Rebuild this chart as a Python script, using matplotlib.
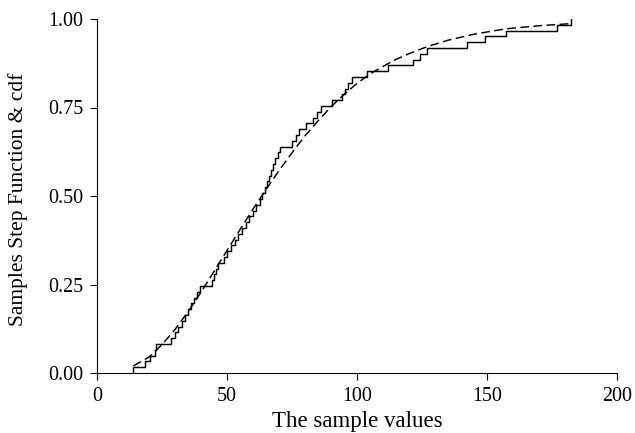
import numpy as np
import matplotlib
matplotlib.use("Agg")
import matplotlib.pyplot as plt

plt.rcParams['font.family'] = ['Liberation Serif', 'DejaVu Serif']

# Sorted sample values (read from the step function)
sample_values = [
    14.0, 18.5, 20.4, 22.3, 22.6, 28.5, 30.0, 31.3, 32.6, 33.8,
    35.0, 36.0, 37.2, 38.4, 39.6, 44.1, 45.0, 45.8, 46.4, 48.7,
    50.0, 51.5, 53.0, 54.4, 55.8, 57.2, 58.6, 60.0, 61.3, 62.7,
    63.6, 64.5, 65.3, 66.2, 67.0, 67.8, 68.6, 69.5, 70.4, 75.1,
    76.4, 77.7, 80.3, 83.2, 84.7, 86.2, 90.3, 94.1, 95.3, 96.6,
    98.0, 103.7, 112.0, 121.4, 124.2, 126.8, 142.2, 149.2, 157.3, 176.8,
    182.3,
]

# Theoretical cdf (dashed)
cdf_x = [14, 20, 25, 30, 35, 40, 45, 50, 55, 60, 65, 70, 75, 80, 85, 90,
         95, 100, 105, 110, 115, 120, 127, 135, 145, 157, 170, 182.3]
cdf_y = [0.020, 0.045, 0.080, 0.123, 0.173, 0.228, 0.287, 0.346, 0.405, 0.463,
         0.518, 0.572, 0.622, 0.670, 0.712, 0.752, 0.787, 0.818, 0.845, 0.866,
         0.886, 0.902, 0.922, 0.940, 0.957, 0.972, 0.981, 0.987]

x_ticks = [0, 50, 100, 150, 200]
y_ticks = [0.00, 0.25, 0.50, 0.75, 1.00]
y_tick_labels = ["0.00", "0.25", "0.50", "0.75", "1.00"]

fig = plt.figure(figsize=(6.35, 4.33), dpi=100)
ax = fig.add_axes([97/635, 1 - 373/433, (617 - 97)/635, (373 - 19)/433])

xs = np.sort(np.asarray(sample_values))
n = len(xs)
step_x = np.r_[xs[0], xs]
step_y = np.arange(0, n + 1) / n
ax.step(step_x, step_y, where='post', color='black', lw=1.05)
ax.plot(cdf_x, cdf_y, color='black', lw=1.05, linestyle=(0, (6, 3)))

ax.set_xlim(0, 200)
ax.set_ylim(0, 1)
ax.set_xticks(x_ticks)
ax.set_yticks(y_ticks)
ax.set_yticklabels(y_tick_labels)
ax.tick_params(axis='both', direction='out', length=5, width=0.8,
               labelsize=14.4, pad=5)
for s in ['top', 'right']:
    ax.spines[s].set_visible(False)
for s in ['left', 'bottom']:
    ax.spines[s].set_linewidth(0.8)

ax.set_xlabel("The sample values", fontsize=16.5, labelpad=3.5)
fig.text(18/635, 1 - 199/433, "Samples Step Function & cdf", rotation=90,
         fontsize=15.5, ha='center', va='center')

fig.savefig("out.png", dpi=100)
